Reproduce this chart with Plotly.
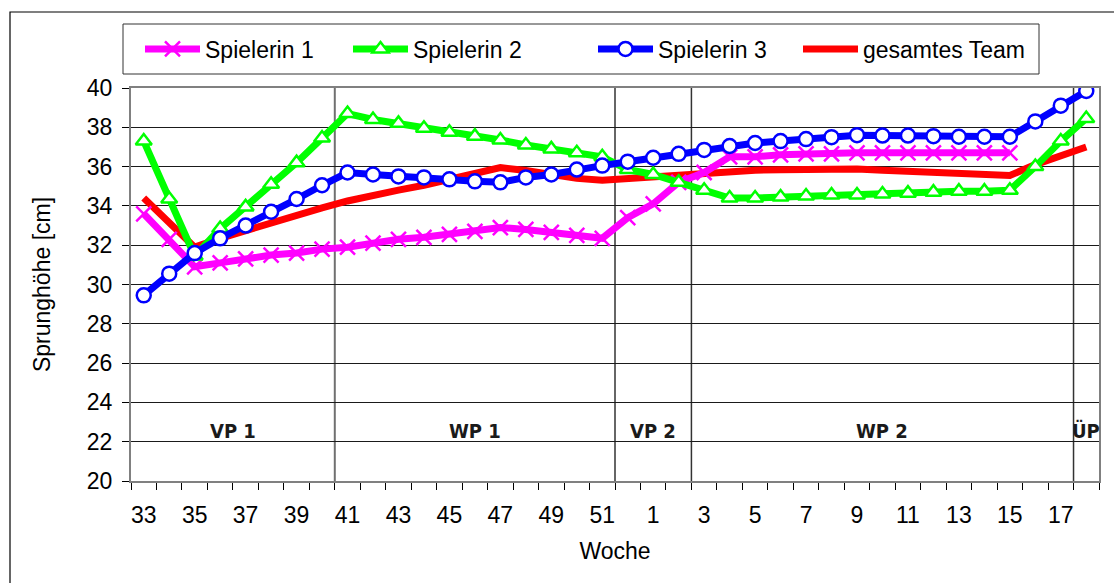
import plotly.graph_objects as go

# Kalenderwochen der Saison (Woche 33 bis Woche 18 des Folgejahres)
weeks = list(range(33, 53)) + list(range(1, 19))

spielerin_1 = [33.6, 32.3, 30.9, 31.1, 31.3, 31.5, 31.6, 31.8, 31.9,
               32.1, 32.3, 32.4, 32.55, 32.7, 32.9, 32.8, 32.65, 32.5, 32.35,
               33.4, 34.1, 35.2, 35.7, 36.5, 36.5,
               36.6, 36.65, 36.65, 36.7, 36.7, 36.7, 36.7, 36.7, 36.7, 36.7,
               None, None, None]
spielerin_2 = [37.3, 34.35, 31.45, 32.85, 33.95, 35.1, 36.2, 37.45, 38.7,
               38.4, 38.2, 37.95, 37.75, 37.55, 37.35, 37.1, 36.9, 36.7, 36.5,
               35.85, 35.6, 35.2, 34.8, 34.4, 34.4,
               34.45, 34.5, 34.55, 34.55, 34.6, 34.65, 34.7, 34.75, 34.75, 34.8,
               36.0, 37.3, 38.45]
spielerin_3 = [29.45, 30.55, 31.6, 32.35, 33.0, 33.7, 34.35, 35.05, 35.7,
               35.6, 35.5, 35.45, 35.35, 35.25, 35.2, 35.45, 35.6, 35.85, 36.05,
               36.25, 36.45, 36.65, 36.85, 37.05, 37.2,
               37.3, 37.4, 37.5, 37.6, 37.58, 37.58, 37.55, 37.52, 37.52, 37.52,
               38.3, 39.1, 39.85]
team = [34.4, 33.2, 31.9, 32.35, 32.75, 33.15, 33.5, 33.9, 34.25,
        34.55, 34.8, 35.05, 35.35, 35.7, 35.95, 35.8, 35.6, 35.4, 35.3,
        35.4, 35.5, 35.6, 35.7, 35.8, 35.82,
        35.84, 35.86, 35.88, 35.88, 35.82, 35.76, 35.7, 35.65, 35.6, 35.55,
        36.1, 36.55, 37.0]

# Trainingsphasen: Name und Startwoche
phase_names = ["VP 1", "WP 1", "VP 2", "WP 2", "ÜP"]
phase_start_weeks = [33, 41, 52, 3, 18]

y_ticks = list(range(20, 41, 2))

FONT = "Liberation Sans, Arial, sans-serif"
FS = 23
x = list(range(len(weeks)))

# Plotbereich in Pixeln
W, H = 1114, 583
ML, MR, MT, MB = 131, 15, 88, 102
PW, PH = W - ML - MR, H - MT - MB


def px_x(p):
    return (p - ML) / PW


def px_y(p):
    return 1 - (p - MT) / PH


fig = go.Figure()

# Zeichenreihenfolge: Team unten, Spielerin 3 oben; jede Reihe hat ihren eigenen Legendeneintrag
fig.add_trace(go.Scatter(
    x=x, y=team, name="gesamtes Team", mode="lines", legend="legend4",
    line=dict(color="#FF0000", width=7)))
fig.add_trace(go.Scatter(
    x=x, y=spielerin_1, name="Spielerin 1", mode="lines+markers", legend="legend",
    line=dict(color="#FF00FF", width=7),
    marker=dict(symbol="x-thin-open", size=15, color="#FF00FF",
                line=dict(color="#FF00FF", width=2.5))))
fig.add_trace(go.Scatter(
    x=x, y=spielerin_2, name="Spielerin 2", mode="lines+markers", legend="legend2",
    line=dict(color="#00FF00", width=7),
    marker=dict(symbol="triangle-up", size=14, color="white",
                line=dict(color="#00FF00", width=2.5))))
fig.add_trace(go.Scatter(
    x=x, y=spielerin_3, name="Spielerin 3", mode="lines+markers", legend="legend3",
    line=dict(color="#0000FF", width=7),
    marker=dict(symbol="circle", size=14, color="white",
                line=dict(color="#0000FF", width=2.5))))

# Phasengrenzen und Phasenbeschriftungen
starts = [weeks.index(w) - 0.5 for w in phase_start_weeks]
ends = starts[1:] + [len(weeks) - 0.5]
shapes = []
for i, s in enumerate(starts[1:]):
    shapes.append(dict(type="line", xref="x", yref="y", x0=s, x1=s, y0=20, y1=40,
                       line=dict(color="#707070" if i == 0 else "#333333",
                                 width=2 if i == 0 else 1.5),
                       layer="below"))
# äußerer Rahmen
shapes.append(dict(type="rect", xref="paper", yref="paper",
                   x0=px_x(10), x1=1.2, y0=-0.6, y1=px_y(12),
                   line=dict(color="black", width=1.2), fillcolor="rgba(0,0,0,0)",
                   layer="below"))
# Legendenrahmen
shapes.append(dict(type="rect", xref="paper", yref="paper",
                   x0=px_x(123), x1=px_x(1039), y0=px_y(74), y1=px_y(24),
                   line=dict(color="#333333", width=1), fillcolor="white",
                   layer="below"))

annotations = []
for name, s, e in zip(phase_names, starts, ends):
    annotations.append(dict(
        x=(s + e) / 2, y=22, xref="x", yref="y", text=name, showarrow=False,
        yanchor="bottom", yshift=-3,
        font=dict(family="Liberation Sans Narrow, Arial Narrow, DejaVu Sans Condensed, sans-serif",
                  size=20, color="#1a1a1a", weight="bold")))


def legend_at(px_left):
    return dict(orientation="h", x=px_x(px_left), y=px_y(49),
                xanchor="left", yanchor="middle",
                borderwidth=0, bgcolor="rgba(0,0,0,0)",
                font=dict(family=FONT, size=FS), itemwidth=55)


fig.update_layout(
    width=W, height=H,
    margin=dict(l=ML, r=MR, t=MT, b=MB),
    paper_bgcolor="white", plot_bgcolor="white",
    font=dict(family=FONT, size=FS, color="black"),
    showlegend=True,
    legend=legend_at(140),
    legend2=legend_at(348),
    legend3=legend_at(593),
    legend4=legend_at(798),
    shapes=shapes,
    annotations=annotations,
    xaxis=dict(
        range=[-0.5, len(weeks) - 0.5],
        tickmode="array", tickvals=x[::2], ticktext=[str(w) for w in weeks[::2]],
        ticks="", ticklabelstandoff=12, showgrid=False, zeroline=False,
        showline=True, linecolor="#808080", linewidth=2, mirror=True,
        minor=dict(tickmode="array", tickvals=[i - 0.5 for i in range(len(weeks) + 1)],
                   ticks="outside", ticklen=7, tickcolor="black", tickwidth=1, showgrid=False),
        title=dict(text="Woche", font=dict(size=FS), standoff=16),
        tickfont=dict(size=FS),
    ),
    yaxis=dict(
        range=[20, 40], tickmode="array", tickvals=y_ticks,
        ticks="outside", ticklen=7, tickcolor="black", ticklabelstandoff=5,
        showgrid=True, gridcolor="#1a1a1a", gridwidth=1, zeroline=False,
        showline=True, linecolor="#808080", linewidth=2, mirror=True,
        title=dict(text="Sprunghöhe [cm]", font=dict(size=FS), standoff=30),
        tickfont=dict(size=FS),
    ),
)

fig.write_html("out.html")
